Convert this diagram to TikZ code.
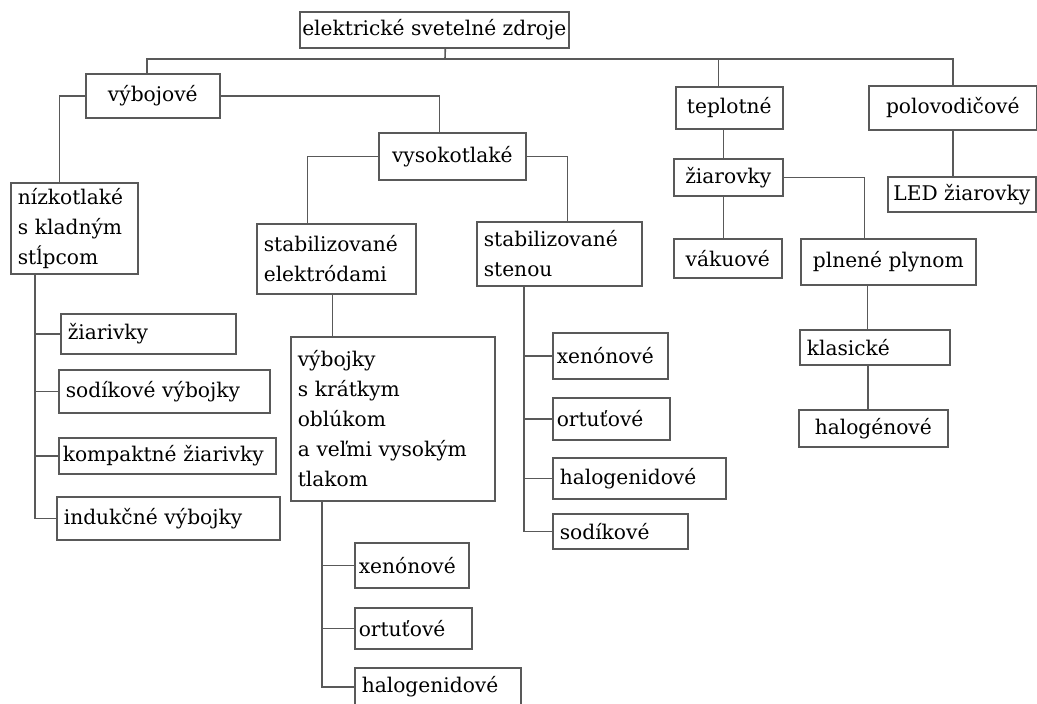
\documentclass[tikz,border=0pt]{standalone}
\usepackage{fontspec}
\usepackage{tikz}
\setmainfont{DejaVu Serif}

\tikzset{
  box/.style={draw=black!65, line width=1.6pt, anchor=north west, inner xsep=2pt,
    inner ysep=0pt, align=center, font=\fontsize{20.2}{30}\selectfont},
  lbox/.style={box, align=left, inner xsep=7pt},
  link/.style={black!65, line width=1.6pt}
}

\begin{document}
\begin{tikzpicture}[x=1pt, y=-1pt]
        \useasboundingbox (0,0) rectangle (1037,704);
        \clip (0,0) rectangle (1037,704);

        \node[box, minimum width=269pt, minimum height=36pt] (zdroje) at (299,11) {elektrické svetelné zdroje};
        \coordinate (bus) at (445,59);

        \node[box, minimum width=134pt, minimum height=44pt] (vyboj) at (85,73) {výbojové};
        \node[box, minimum width=107pt, minimum height=42pt] (tepl) at (675,86) {teplotné};
        \node[box, minimum width=168pt, minimum height=44pt] (polov) at (868,85) {polovodičové};

        % vybojove
        \node[lbox, text width=113pt, minimum height=91pt] (nizko) at (10,182) {nízkotlaké\\s kladným\\stĺpcom};
        \node[box, minimum width=147pt, minimum height=47pt] (vysoko) at (378,132) {vysokotlaké};
        \node[lbox, text width=145pt, minimum height=70pt] (stabel) at (256,223) {stabilizované\\elektródami};
        \node[lbox, text width=151pt, minimum height=64pt] (stabst) at (476,221) {stabilizované\\stenou};
        \node[lbox, text width=190pt, minimum height=164pt] (kratky) at (290,336) {výbojky\\s krátkym\\oblúkom\\a veľmi vysokým\\tlakom};

        \node[lbox, text width=161pt, minimum height=40pt] (ziariv) at (60,313) {žiarivky};
        \node[lbox, text width=197pt, minimum height=43pt] (sodvyb) at (58,369) {sodíkové výbojky};
        \node[lbox, inner xsep=4pt, text width=209pt, minimum height=36pt] (kompakt) at (58,437) {kompaktné žiarivky};
        \node[lbox, text width=209pt, minimum height=43pt] (indukc) at (56,496) {indukčné výbojky};

        \node[lbox, inner xsep=4pt, text width=106pt, minimum height=45pt] (xenonA) at (354,542) {xenónové};
        \node[lbox, inner xsep=4pt, text width=109pt, minimum height=41pt] (ortutA) at (354,607) {ortuťové};
        \node[lbox, text width=152pt, minimum height=38pt] (halogA) at (354,667) {halogenidové};

        \node[lbox, inner xsep=4pt, text width=107pt, minimum height=46pt] (xenonB) at (552,332) {xenónové};
        \node[lbox, inner xsep=4pt, text width=109pt, minimum height=42pt] (ortutB) at (552,397) {ortuťové};
        \node[lbox, text width=159pt, minimum height=41pt] (halogB) at (552,457) {halogenidové};
        \node[lbox, text width=121pt, minimum height=35pt] (sodikB) at (552,513) {sodíkové};

        % teplotne, polovodicove
        \node[box, minimum width=109pt, minimum height=37pt] (ziarov) at (673,158) {žiarovky};
        \node[box, minimum width=108pt, minimum height=39pt] (vakuo) at (673,238) {vákuové};
        \node[box, minimum width=175pt, minimum height=46pt] (plnene) at (800,238) {plnené plynom};
        \node[lbox, text width=136pt, minimum height=35pt] (klasik) at (799,329) {klasické};
        \node[box, minimum width=149pt, minimum height=37pt] (halogen) at (798,409) {halogénové};
        \node[box, minimum width=148pt, minimum height=35pt] (ledz) at (887,176) {LED žiarovky};

        \draw[link] ([xshift=11pt]zdroje.south) -- (bus);
        \draw[link] ([xshift=-6pt]vyboj.north) |- (bus) -| (polov.north);
        \draw[link] ([xshift=-11pt]tepl.north) -- ([xshift=-11pt]tepl.north |- bus);

        \draw[link] (vyboj.west) -| ([xshift=-15pt]nizko.north);
        \draw[link] (vyboj.east) -| ([xshift=-13pt]vysoko.north);
        \draw[link] (vysoko.west) -| ([xshift=-29pt]stabel.north);
        \draw[link] (vysoko.east) -| ([xshift=8pt]stabst.north);
        \draw[link] ([xshift=-4pt]stabel.south) -- ([xshift=-4pt]stabel.south |- kratky.north);

        \coordinate (trunkA) at ([xshift=25pt]nizko.south west);
        \draw[link] (trunkA) |- (indukc.west);
        \foreach \n in {ziariv,sodvyb,kompakt}
            \draw[link] (\n.west) -- (\n.west -| trunkA);

        \coordinate (trunkB) at ([xshift=32pt]kratky.south west);
        \draw[link] (trunkB) |- (halogA.west);
        \foreach \n in {xenonA,ortutA}
            \draw[link] (\n.west) -- (\n.west -| trunkB);

        \coordinate (trunkC) at ([xshift=48pt]stabst.south west);
        \draw[link] (trunkC) |- (sodikB.west);
        \foreach \n in {xenonB,ortutB,halogB}
            \draw[link] (\n.west) -- (\n.west -| trunkC);

        \draw[link] ([xshift=-6pt]tepl.south) -- ([xshift=-6pt]tepl.south |- ziarov.north);
        \draw[link] ([xshift=-5pt]ziarov.south) -- ([xshift=-5pt]ziarov.south |- vakuo.north);
        \draw[link] (ziarov.east) -| ([xshift=-24pt]plnene.north);
        \draw[link] ([xshift=-21pt]plnene.south) -- ([xshift=-21pt]plnene.south |- klasik.north);
        \draw[link] ([xshift=-7pt]klasik.south) -- ([xshift=-7pt]klasik.south |- halogen.north);
        \draw[link] (polov.south) -- (polov.south |- ledz.north);
    \end{tikzpicture}
\end{document}
